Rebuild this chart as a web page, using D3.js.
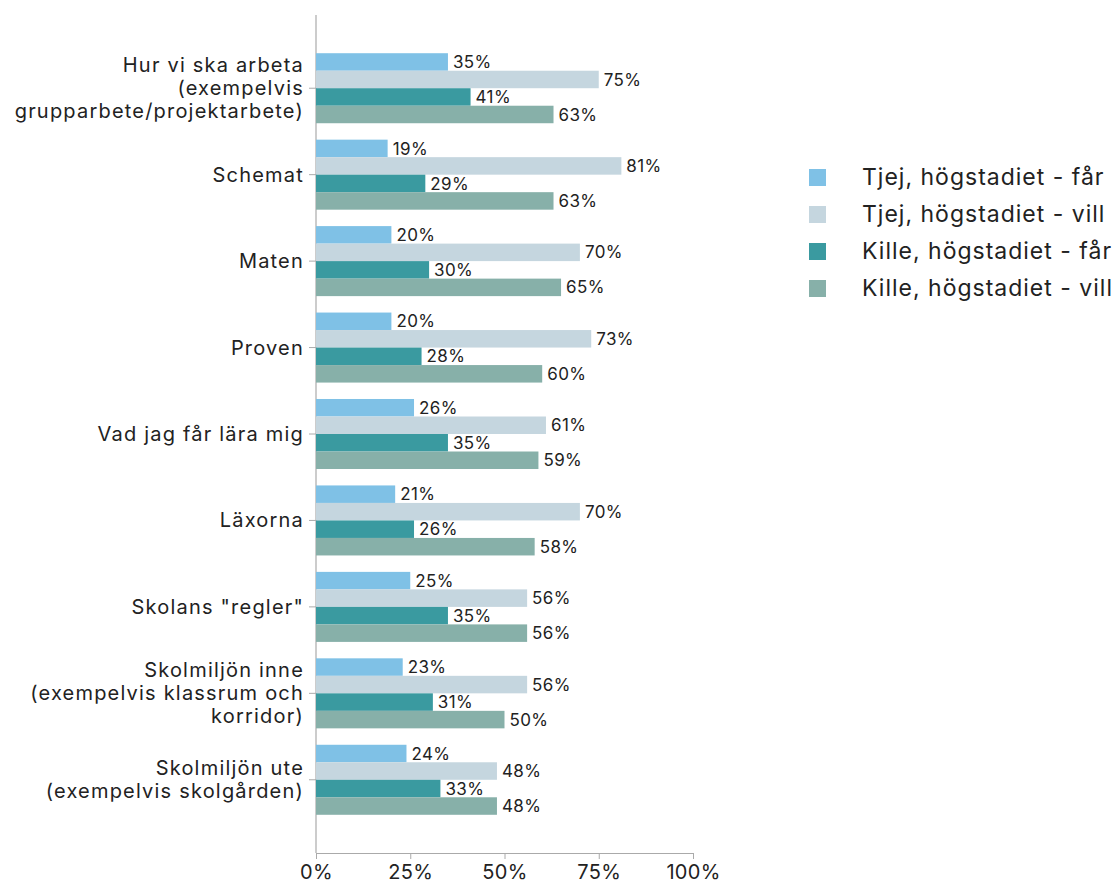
<!DOCTYPE html>
<html><head><meta charset="utf-8">
<script src="https://cdn.jsdelivr.net/npm/d3@7"></script>
<style>body{margin:0;background:#fff}svg{display:block}</style>
</head><body>
<svg id="c" width="1112" height="883"></svg>
<script>
const categories = [
  ["Hur vi ska arbeta","(exempelvis","grupparbete/projektarbete)"],
  ["Schemat"],
  ["Maten"],
  ["Proven"],
  ["Vad jag får lära mig"],
  ["Läxorna"],
  ["Skolans \"regler\""],
  ["Skolmiljön inne","(exempelvis klassrum och","korridor)"],
  ["Skolmiljön ute","(exempelvis skolgården)"]
];
const seriesNames = ["Tjej, högstadiet - får","Tjej, högstadiet - vill","Kille, högstadiet - får","Kille, högstadiet - vill"];
const tjejFar  = [35,19,20,20,26,21,25,23,24];
const tjejVill = [75,81,70,73,61,70,56,56,48];
const killeFar = [41,29,30,28,35,26,35,31,33];
const killeVill= [63,63,65,60,59,58,56,50,48];
const colors = ["#7fc1e6","#c5d6df","#3a9aa0","#87b0a9"];
const xTicks = [0,25,50,75,100];

const series = [tjejFar,tjejVill,killeFar,killeVill];
const font = "Inter, 'Noto Sans', sans-serif";
const svg = d3.select("#c");
const idx = d3.range(categories.length);
const x = d3.scaleLinear().domain([0,100]).range([316,693]);
const y = d3.scaleBand().domain(idx).range([45,823]).paddingInner(0.19).paddingOuter(0.095);
const inner = d3.scaleBand().domain(d3.range(4)).range([0,y.bandwidth()]);

// axes
const gx = svg.append("g").attr("transform","translate(0,853)")
  .call(d3.axisBottom(x).tickValues(xTicks).tickFormat(d=>d+"%").tickSize(6).tickSizeOuter(0));
gx.select(".domain").attr("stroke","#aaa");
gx.selectAll(".tick line").attr("stroke","#aaa");
gx.selectAll(".tick text").attr("font-family",font).attr("font-size",20).attr("fill","#222")
  .attr("letter-spacing",0.3).attr("y",10).attr("dy","0.78em");

svg.append("line").attr("x1",316).attr("x2",316).attr("y1",15).attr("y2",853).attr("stroke","#aaa").attr("stroke-width",1.2);
// y ticks
svg.selectAll(".ytick").data(idx).join("line")
  .attr("x1",309).attr("x2",316)
  .attr("y1",d=>y(d)+y.bandwidth()/2).attr("y2",d=>y(d)+y.bandwidth()/2)
  .attr("stroke","#aaa");

// bars
const g = svg.append("g");
series.forEach((vals,si)=>{
  g.selectAll(".b"+si).data(vals).join("rect")
    .attr("x",x(0)).attr("y",(d,i)=>y(i)+inner(si))
    .attr("width",d=>x(d)-x(0)).attr("height",inner.bandwidth())
    .attr("fill",colors[si]);
  g.selectAll(".l"+si).data(vals).join("text")
    .attr("x",d=>x(d)+5).attr("y",(d,i)=>y(i)+inner(si)+inner.bandwidth()/2)
    .attr("dy","0.36em").attr("font-family",font).attr("font-size",17).attr("letter-spacing",0.4).attr("fill","#222")
    .text(d=>d+"%");
});

// category labels
const lh = 23;
idx.forEach(i=>{
  const lines = categories[i];
  const cy = y(i)+y.bandwidth()/2;
  const t = svg.append("text").attr("text-anchor","end").attr("font-family",font)
    .attr("font-size",20).attr("letter-spacing",1.2).attr("fill","#222");
  lines.forEach((ln,k)=>{
    t.append("tspan").attr("x",304)
     .attr("y",cy + (k-(lines.length-1)/2)*lh).attr("dy","0.35em").text(ln);
  });
});

// legend
const lg = svg.append("g");
seriesNames.forEach((n,i)=>{
  const cy = 177 + i*37;
  lg.append("rect").attr("x",809).attr("y",cy-8).attr("width",17).attr("height",17).attr("fill",colors[i]);
  lg.append("text").attr("x",862).attr("y",cy).attr("dy","0.35em").attr("font-family",font)
    .attr("font-size",23).attr("letter-spacing",1).attr("fill","#222").text(n);
});
</script>
</body></html>
